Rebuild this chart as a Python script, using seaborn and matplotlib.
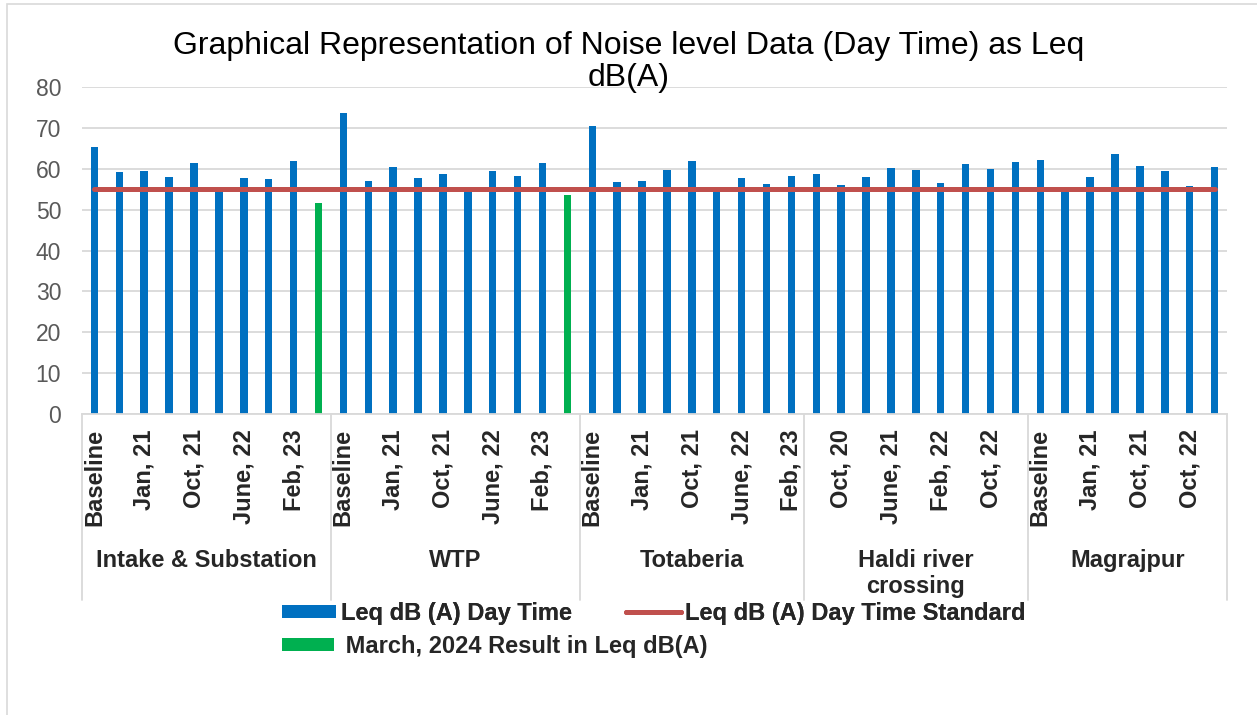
import matplotlib
matplotlib.use("Agg")
import matplotlib.pyplot as plt
import pandas as pd
import seaborn as sns
from matplotlib.lines import Line2D
from matplotlib.patches import Patch, Rectangle
from matplotlib.transforms import blended_transform_factory

# ---------------------------------------------------------------- data
locations = ["Intake & Substation", "WTP", "Totaberia", "Haldi river\ncrossing", "Magrajpur"]

periods_intake = ["Baseline", "Oct, 20", "Jan, 21", "June, 21", "Oct, 21",
                  "Feb, 22", "June, 22", "Oct, 22", "Feb, 23", "March, 24"]
periods_wtp = ["Baseline", "Oct, 20", "Jan, 21", "June, 21", "Oct, 21",
               "Feb, 22", "June, 22", "Oct, 22", "Feb, 23", "March, 24"]
periods_totaberia = ["Baseline", "Oct, 20", "Jan, 21", "June, 21", "Oct, 21",
                     "Feb, 22", "June, 22", "Oct, 22", "Feb, 23"]
periods_haldi = ["Baseline", "Oct, 20", "Jan, 21", "June, 21", "Oct, 21",
                 "Feb, 22", "June, 22", "Oct, 22", "Feb, 23"]
periods_magrajpur = ["Baseline", "Oct, 20", "Jan, 21", "June, 21", "Oct, 21",
                     "Feb, 22", "Oct, 22", "Feb, 23"]

# Leq dB(A), day time monitoring results
day_intake = [65.4, 59.1, 59.5, 57.9, 61.3, 54.5, 57.8, 57.5, 61.9]
day_wtp = [73.7, 57.1, 60.5, 57.8, 58.6, 54.5, 59.4, 58.2, 61.3]
day_totaberia = [70.4, 56.7, 56.9, 59.7, 61.8, 54.5, 57.7, 56.2, 58.2]
day_haldi = [58.8, 56.1, 58.1, 60.1, 59.6, 56.4, 61.2, 59.9, 61.6]
day_magrajpur = [62.1, 54.3, 58.1, 63.7, 60.7, 59.5, 55.7, 60.4]

# March 2024 results (only two stations)
march24_intake = 51.5
march24_wtp = 53.7
march24_totaberia = None
march24_haldi = None
march24_magrajpur = None

# Day time standard, Leq dB(A)
day_standard = 55

yticks = [0, 10, 20, 30, 40, 50, 60, 70, 80]

S_DAY = "Leq dB (A) Day Time"
S_STD = "Leq dB (A) Day Time Standard"
S_MAR = " March, 2024 Result in Leq dB(A)"

BLUE = "#0070C0"
GREEN = "#00B050"
RED = "#C0504D"
GRID = "#D9D9D9"

# ---------------------------------------------------------------- table
period_lists = [periods_intake, periods_wtp, periods_totaberia, periods_haldi, periods_magrajpur]
day_lists = [day_intake, day_wtp, day_totaberia, day_haldi, day_magrajpur]
march_lists = [march24_intake, march24_wtp, march24_totaberia, march24_haldi, march24_magrajpur]

rows = []
spans = []
pos = 0
for loc, periods, day, march in zip(locations, period_lists, day_lists, march_lists):
    start = pos
    for per, v in zip(periods, day):
        rows.append(dict(pos=pos, location=loc, period=per, level=v, series=S_DAY))
        pos += 1
    if march is not None:
        rows.append(dict(pos=pos, location=loc, period=periods[len(day)], level=march, series=S_MAR))
        pos += 1
    spans.append((start, pos - 1))
df = pd.DataFrame(rows)
df["standard"] = day_standard

# ---------------------------------------------------------------- figure
sns.set_style("white")
plt.rcParams["font.family"] = ["Liberation Sans", "DejaVu Sans"]

W, H = 1257, 715
fig = plt.figure(figsize=(W / 100, H / 100), dpi=100)
ax = fig.add_axes([82 / W, 1 - 414 / H, (1227 - 82) / W, (414 - 87) / H])

sns.barplot(data=df, x="pos", y="level", hue="series", orient="x",
            palette={S_DAY: BLUE, S_MAR: GREEN}, native_scale=True,
            dodge=False, width=0.3, saturation=1, linewidth=0,
            legend=False, ax=ax)
sns.lineplot(data=df, x="pos", y="standard", color=RED, linewidth=3.6,
             solid_capstyle="round", legend=False, ax=ax)

ax.set_xlim(-0.5, pos - 0.5)
ax.set_ylim(0, 80)
ax.set_yticks(yticks)
ax.yaxis.grid(True, color=GRID, linewidth=1.3)
ax.xaxis.grid(False)
ax.set_axisbelow(True)
for side in ("top", "right", "left"):
    ax.spines[side].set_visible(False)
ax.spines["bottom"].set_color(GRID)
ax.spines["bottom"].set_linewidth(1.3)
ax.set_xlabel("")
ax.set_ylabel("")

ax.set_xticks(df["pos"])
ax.set_xticklabels(df["period"], rotation=90, fontsize=17, fontweight="bold")
for i, lbl in enumerate(ax.get_xticklabels()):
    lbl.set_visible(i % 2 == 0)
ax.tick_params(axis="x", length=0, pad=11)
ax.tick_params(axis="y", length=0, pad=15, labelsize=16.5, labelcolor="#595959")

# multi-level category axis: separators and location names
blend = blended_transform_factory(ax.transData, ax.transAxes)
bounds = [-0.5] + [e + 0.5 for _, e in spans]
for b in bounds:
    ax.plot([b, b], [0, -0.57], transform=blend, clip_on=False,
            color=GRID, linewidth=1.3)
for (s, e), loc in zip(spans, locations):
    ax.text((s + e) / 2, -0.414, loc, transform=blend, ha="center", va="top",
            fontsize=17, fontweight="bold", linespacing=1.15)

# title
fig.text(0.5, 1 - 31 / H,
         "Graphical Representation of Noise level Data (Day Time) as Leq\ndB(A)",
         ha="center", va="top", fontsize=23, color="black", linespacing=1.1)

# legend: first row holds the day-time series and the standard, second row March 2024
legend_kw = dict(loc="upper left", bbox_transform=fig.transFigure, frameon=False,
                 borderpad=0, borderaxespad=0, prop=dict(size=17, weight="bold"),
                 handletextpad=0.2, handleheight=0.5)
row1 = fig.legend(handles=[Patch(facecolor=BLUE, edgecolor="none", label=S_DAY),
                           Line2D([0], [0], color=RED, linewidth=3.6,
                                  solid_capstyle="round", label=S_STD)],
                  ncol=2, bbox_to_anchor=(282 / W, 1 - 602 / H),
                  handlelength=2.3, columnspacing=2.3, **legend_kw)
fig.add_artist(row1)
fig.legend(handles=[Patch(facecolor=GREEN, edgecolor="none", label=S_MAR)],
           ncol=1, bbox_to_anchor=(282 / W, 1 - 635 / H),
           handlelength=2.2, **legend_kw)

# chart area border
fig.patches.append(Rectangle((7 / W, -0.05), 1.2, 1.05 - 4 / H, transform=fig.transFigure,
                             fill=False, edgecolor=GRID, linewidth=1.2))

fig.savefig("out.png", dpi=100)
